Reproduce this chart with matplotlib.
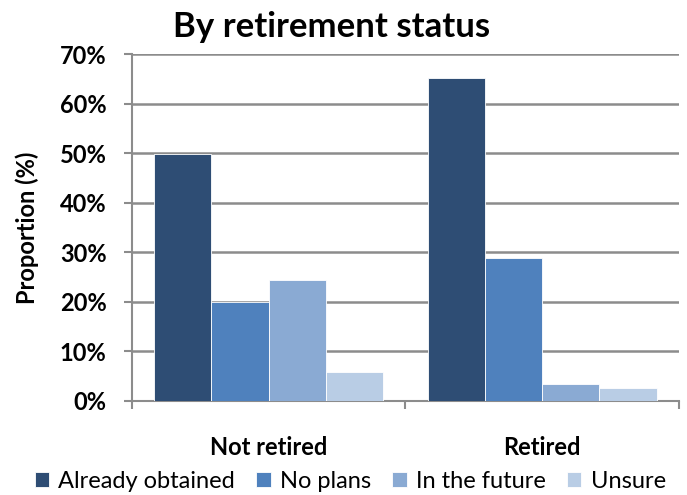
import numpy as np
import matplotlib.pyplot as plt
from matplotlib.ticker import FuncFormatter

# data
groups = ['Not retired', 'Retired']
series = ['Already obtained', 'No plans', 'In the future', 'Unsure']
already_obtained = [49.8, 65.1]
no_plans = [19.9, 28.8]
in_the_future = [24.4, 3.4]
unsure = [5.8, 2.6]

values = [already_obtained, no_plans, in_the_future, unsure]
colors = ['#2E4D74', '#4F81BD', '#8AAAD3', '#B9CDE5']

plt.rcParams['font.family'] = ['Lato', 'DejaVu Sans']

fig = plt.figure(figsize=(6.87, 4.95), dpi=100)
ax = fig.add_axes([0.1917, 0.1899, 0.7967, 0.701])

x = np.arange(len(groups))
w = 0.209
for i, (name, vals) in enumerate(zip(series, values)):
    ax.bar(x + (i - 1.5) * w, vals, width=w, color=colors[i], label=name,
           edgecolor='white', linewidth=0.6, zorder=3)

ax.set_xlim(-0.5, 1.5)
ax.set_ylim(0, 70)
ax.set_yticks(np.arange(0, 71, 10))
ax.yaxis.set_major_formatter(FuncFormatter(lambda v, p: f'{int(v)}%'))
ax.grid(axis='y', color='#8C8C8C', linewidth=1.8, zorder=0)
ax.set_axisbelow(True)

ax.set_xticks(x)
ax.set_xticklabels(groups, fontsize=17, fontweight='bold')
ax.tick_params(axis='x', which='major', length=0, pad=25)
ax.set_xticks([-0.5, 0.5, 1.5], minor=True)
ax.tick_params(axis='x', which='minor', length=5.5, width=1.5, color='#8C8C8C')
ax.tick_params(axis='y', length=6, width=1.5, color='#8C8C8C', labelsize=17, pad=12)
for lbl in ax.get_yticklabels():
    lbl.set_fontweight('bold')

for s in ['top', 'right']:
    ax.spines[s].set_visible(False)
for s in ['left', 'bottom']:
    ax.spines[s].set_color('#8C8C8C')
    ax.spines[s].set_linewidth(1.5)

ax.set_ylabel('Proportion (%)', fontsize=17, fontweight='bold', labelpad=15)
fig.text(0.482, 0.945, 'By retirement status', ha='center', va='center',
         fontsize=25, fontweight='bold')

fig.legend(loc='center', bbox_to_anchor=(0.51, 0.027), ncol=4, frameon=False,
           fontsize=17, handlelength=0.6, handleheight=0.6, handletextpad=0.4,
           columnspacing=0.9, borderaxespad=0)

fig.savefig('out.png', dpi=100)
